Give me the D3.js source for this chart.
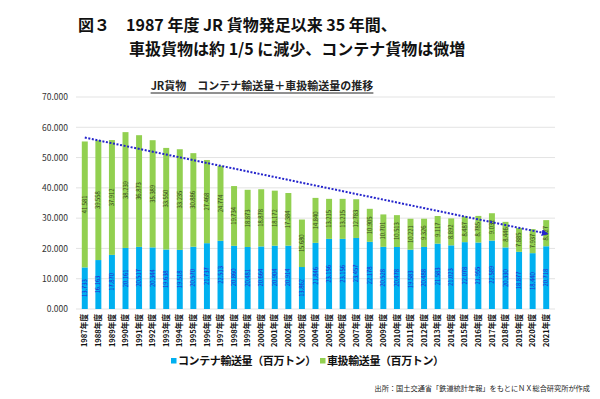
<!DOCTYPE html>
<html>
<head>
<meta charset="utf-8">
<script src="https://cdn.jsdelivr.net/npm/d3@7"></script>
<style>
  body { margin: 0; background: #fff; }
  text { font-family: "Noto Sans CJK JP", "Noto Sans", sans-serif; }
</style>
</head>
<body>
<script>
const years = ["1987","1988","1989","1990","1991","1992","1993","1994","1995","1996",
  "1997","1998","1999","2000","2001","2002","2003","2004","2005","2006","2007","2008",
  "2009","2010","2011","2012","2013","2014","2015","2016","2017","2018","2019","2020","2021"];

// コンテナ輸送量
const container = [13733,16163,17870,20161,20517,20344,19638,19518,20570,21737,
  22513,20860,20481,20664,20904,20914,13862,21846,23156,23156,23457,22178,
  20528,20478,19583,20488,21583,21023,22078,21955,22589,20330,18877,18440,20718];

// 車扱輸送量
const shaatsukai = [41581,39558,37912,38239,36873,35389,33550,33235,30886,27468,
  24774,19734,18873,18878,18172,17384,15680,14840,13215,13215,12783,10905,
  10701,10513,10221,9326,9117,8892,8487,8785,9032,8446,7885,7937,8627];

const yTicks = [0,10000,20000,30000,40000,50000,60000,70000];
const trend = [56600, 25000]; // 近似線の始点・終点 (1987, 2021)

const W = 600, H = 399;
const plotL = 78, plotR = 553, plotT = 97, plotB = 309;

const svg = d3.select("body").append("svg")
  .attr("width", W).attr("height", H);

// titles
svg.append("text").attr("x", 78).attr("y", 31)
  .attr("font-size", 16).attr("font-weight", "bold").attr("fill", "#111")
  .text("図３　1987 年度 JR 貨物発足以来 35 年間、");
svg.append("text").attr("x", 129).attr("y", 55)
  .attr("font-size", 16).attr("font-weight", "bold").attr("fill", "#111")
  .text("車扱貨物は約 1/5 に減少、コンテナ貨物は微増");

const sub = svg.append("text").attr("x", 262).attr("y", 90)
  .attr("text-anchor", "middle")
  .attr("font-size", 11).attr("font-weight", "bold").attr("fill", "#222")
  .text("JR貨物　コンテナ輸送量＋車扱輸送量の推移");
const sb = sub.node().getBBox();
svg.append("line").attr("x1", sb.x).attr("x2", sb.x + sb.width)
  .attr("y1", 93).attr("y2", 93).attr("stroke", "#222").attr("stroke-width", 1);

const x = d3.scaleBand().domain(years).range([plotL, plotR]).paddingInner(0.56).paddingOuter(0.28);
const y = d3.scaleLinear().domain([0, 70000]).range([plotB, plotT]);
const fmt = v => d3.format(".3f")(v / 1000);

// grid
svg.append("g").selectAll("line").data(yTicks).join("line")
  .attr("x1", plotL - 2).attr("x2", plotR + 2)
  .attr("y1", d => y(d)).attr("y2", d => y(d))
  .attr("stroke", "#e3e3e3").attr("stroke-width", 1);

// y axis
const yAxis = d3.axisLeft(y).tickValues(yTicks).tickFormat(fmt).tickSize(0).tickPadding(10);
svg.append("g").attr("transform", `translate(${plotL},0)`).call(yAxis)
  .call(g => g.select(".domain").remove())
  .call(g => g.selectAll("text").attr("font-size", 8.5).attr("fill", "#333")
    .attr("font-family", "Liberation Sans, Arial, sans-serif"));

const rows = years.map((yr, i) => ({ yr, c: container[i], s: shaatsukai[i] }));

// bars
const gb = svg.append("g");
gb.selectAll("rect.c").data(rows).join("rect")
  .attr("x", d => x(d.yr)).attr("width", x.bandwidth())
  .attr("y", d => y(d.c)).attr("height", d => y(0) - y(d.c))
  .attr("fill", "#00b0f0");
gb.selectAll("rect.s").data(rows).join("rect")
  .attr("x", d => x(d.yr)).attr("width", x.bandwidth())
  .attr("y", d => y(d.c + d.s)).attr("height", d => y(d.c) - y(d.c + d.s))
  .attr("fill", "#92d050");

// value labels
const cx = d => x(d.yr) + x.bandwidth() / 2;
gb.selectAll("text.c").data(rows).join("text")
  .attr("transform", d => `translate(${cx(d) + 2},${y(d.c / 2)}) rotate(-90)`)
  .attr("text-anchor", "middle").attr("font-size", 5.8)
  .attr("font-family", "Liberation Sans, Arial, sans-serif")
  .attr("fill", "#2a2ad0").text(d => fmt(d.c));
gb.selectAll("text.s").data(rows).join("text")
  .attr("transform", d => `translate(${cx(d) + 2},${y(d.c + d.s / 2)}) rotate(-90)`)
  .attr("text-anchor", "middle").attr("font-size", 5.8)
  .attr("font-family", "Liberation Sans, Arial, sans-serif")
  .attr("fill", "#3a4a20").text(d => fmt(d.s));

// x axis labels
const xAxis = d3.axisBottom(x).tickSize(0).tickFormat(d => d + "年度");
svg.append("g").attr("transform", `translate(0,${plotB})`).call(xAxis)
  .call(g => g.select(".domain").remove())
  .call(g => g.selectAll("text")
    .attr("transform", "rotate(-90)").attr("text-anchor", "end")
    .attr("x", -5).attr("y", 0).attr("dy", "0.35em")
    .attr("font-size", 7.6).attr("font-weight", "bold").attr("fill", "#111"));

// trend line
svg.append("defs").append("marker").attr("id", "arr")
  .attr("viewBox", "0 0 10 10").attr("refX", 5).attr("refY", 5)
  .attr("markerWidth", 3.4).attr("markerHeight", 3.4).attr("orient", "auto")
  .append("path").attr("d", "M0,0 L10,5 L0,10 z").attr("fill", "#2424cc");
svg.append("line")
  .attr("x1", cx(rows[0])).attr("y1", y(trend[0]))
  .attr("x2", cx(rows[rows.length - 1]) - 1).attr("y2", y(trend[1]))
  .attr("stroke", "#2424cc").attr("stroke-width", 2)
  .attr("stroke-dasharray", "2,1.6").attr("marker-end", "url(#arr)");

// legend
const legend = [
  { label: "コンテナ輸送量（百万トン）", color: "#00b0f0", x: 171 },
  { label: "車扱輸送量（百万トン）", color: "#92d050", x: 320 }
];
const lg = svg.append("g").selectAll("g").data(legend).join("g")
  .attr("transform", d => `translate(${d.x},361)`);
lg.append("rect").attr("x", 0).attr("y", -3).attr("width", 5.5).attr("height", 5.5)
  .attr("fill", d => d.color);
lg.append("text").attr("x", 7).attr("y", 4)
  .attr("font-size", 11).attr("font-weight", "bold").attr("fill", "#111")
  .attr("letter-spacing", -0.4)
  .text(d => d.label);

// source
svg.append("text").attr("x", 590).attr("y", 391).attr("text-anchor", "end")
  .attr("font-size", 7.2).attr("fill", "#222")
  .text("出所：国土交通省「鉄道統計年報」をもとにＮＸ総合研究所が作成");
</script>
</body>
</html>
